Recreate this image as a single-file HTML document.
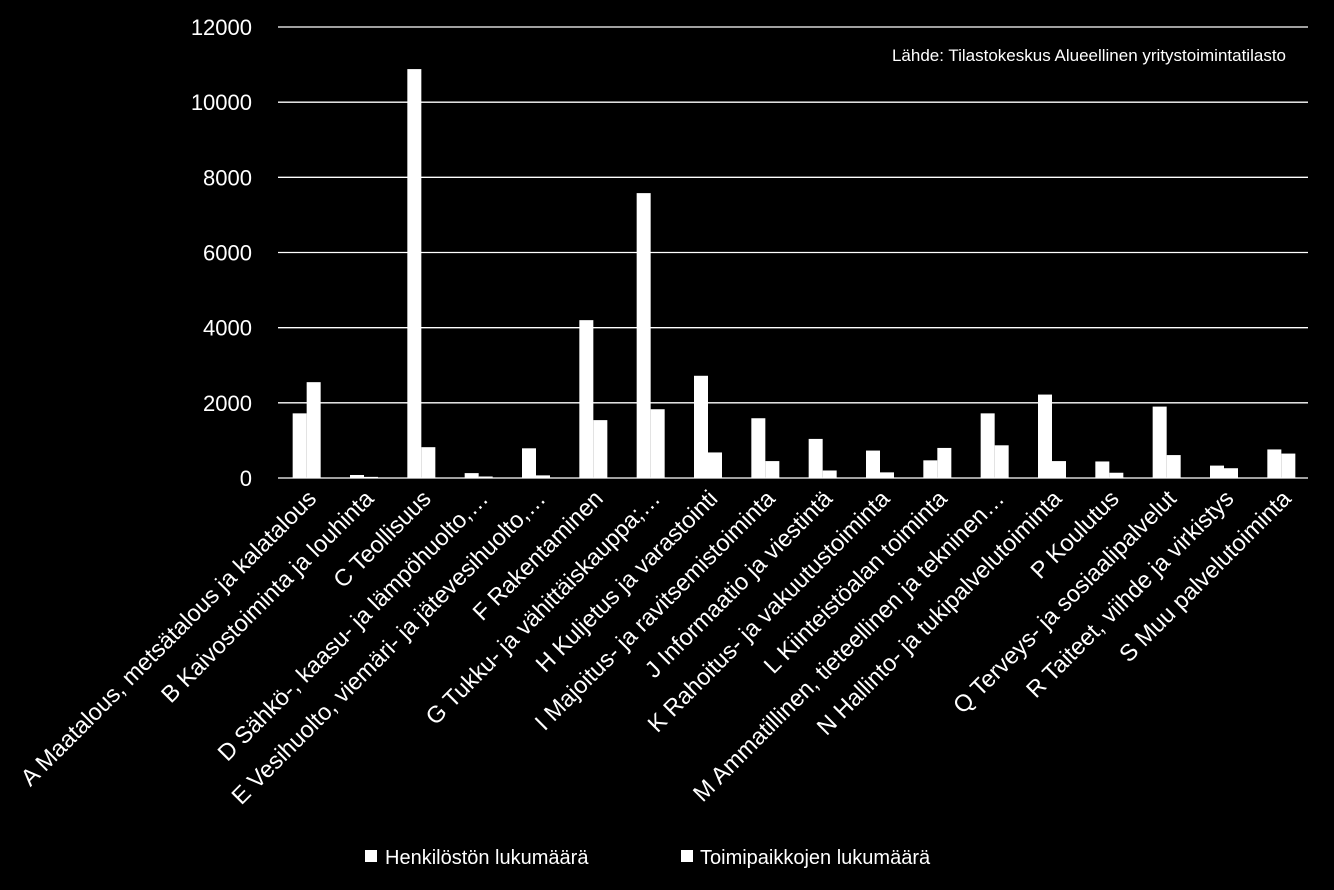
<!DOCTYPE html>
<html><head><meta charset="utf-8"><style>
html,body{margin:0;padding:0;background:#000;}
svg{display:block;font-family:"Liberation Sans",sans-serif;}
</style></head><body>
<svg id="chart" width="1334" height="890" xmlns="http://www.w3.org/2000/svg">
<rect width="1334" height="890" fill="#000"/>
<g id="grid"></g><g id="bars"></g><g id="xlabels"></g><g id="ylabels"></g>
<text x="1286" y="61" fill="#fff" font-size="17" text-anchor="end">Lähde: Tilastokeskus Alueellinen yritystoimintatilasto</text>
<g>
<rect x="365" y="850" width="12" height="12" fill="#fff"/>
<text x="385" y="864" fill="#fff" font-size="20">Henkilöstön lukumäärä</text>
<rect x="681" y="850" width="12" height="12" fill="#fff"/>
<text x="700" y="864" fill="#fff" font-size="20">Toimipaikkojen lukumäärä</text>
</g>
</svg>
<script>
const categories=["A Maatalous, metsätalous ja kalatalous","B Kaivostoiminta ja louhinta","C Teollisuus","D Sähkö-, kaasu- ja lämpöhuolto,…","E Vesihuolto, viemäri- ja jätevesihuolto,…","F Rakentaminen","G Tukku- ja vähittäiskauppa;…","H Kuljetus ja varastointi","I Majoitus- ja ravitsemistoiminta","J Informaatio ja viestintä","K Rahoitus- ja vakuutustoiminta","L Kiinteistöalan toiminta","M Ammatillinen, tieteellinen ja tekninen…","N Hallinto- ja tukipalvelutoiminta","P Koulutus","Q Terveys- ja sosiaalipalvelut","R Taiteet, viihde ja virkistys","S Muu palvelutoiminta"];
const henkilosto=[1720,80,10880,130,790,4200,7580,2720,1590,1040,730,470,1720,2220,440,1900,330,760];
const toimipaikat=[2550,30,820,40,70,1540,1830,680,450,200,150,800,870,450,140,610,260,650];
const yTicks=[0,2000,4000,6000,8000,10000,12000];
const NS="http://www.w3.org/2000/svg";
const x0=278,x1=1310,yTop=27,yBot=478,yMax=12000;
const band=(x1-x0)/categories.length, bw=14;
const y=v=>yBot-(v/yMax)*(yBot-yTop);
const xc=i=>x0+band*(i+0.5);
function mk(tag,attrs,parent){const e=document.createElementNS(NS,tag);for(const k in attrs)e.setAttribute(k,attrs[k]);document.getElementById(parent).appendChild(e);return e;}
yTicks.forEach(t=>{
  const l=mk('line',{x1:x0,x2:1308,y1:y(t),y2:y(t),stroke:'#fff','stroke-width':1.3},'grid');
  
  
  const tx=mk('text',{x:252,y:y(t)+8,fill:'#fff','font-size':22,'text-anchor':'end'},'ylabels');
  tx.textContent=t;
  
  
});
categories.forEach((c,i)=>{
  const cx=xc(i);
  const b1=mk('rect',{x:cx-bw,y:y(henkilosto[i]),width:bw,height:yBot-y(henkilosto[i]),fill:'#fff'},'bars');
  
  
  const b2=mk('rect',{x:cx,y:y(toimipaikat[i]),width:bw,height:yBot-y(toimipaikat[i]),fill:'#fff'},'bars');
  
  
  const lx=cx+11,ly=500;
  const t=mk('text',{x:lx,y:ly,fill:'#fff','font-size':23.5,'text-anchor':'end',transform:`rotate(-45 ${lx} ${ly})`},'xlabels');
  t.textContent=c;
  
  
});
</script>
</body></html>
